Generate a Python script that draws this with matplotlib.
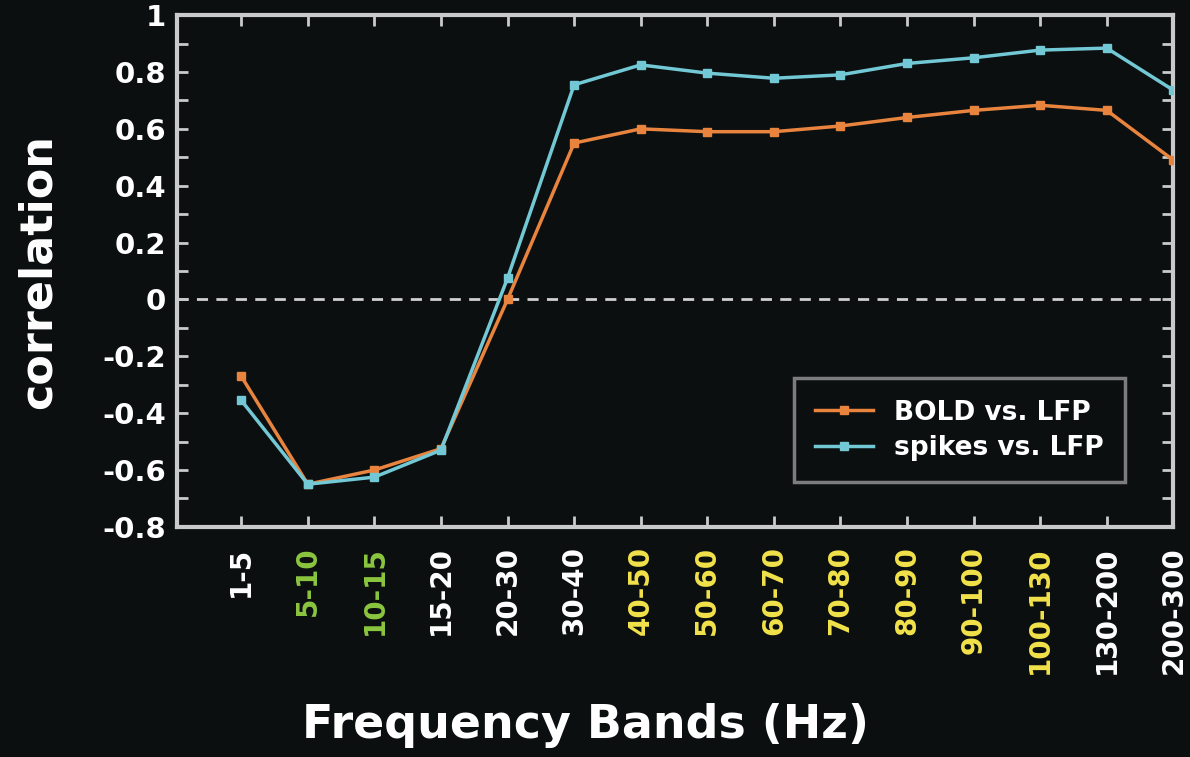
import numpy as np
import matplotlib.pyplot as plt
from matplotlib.ticker import MultipleLocator

# frequency bands and correlations with LFP power
bands = ["1-5", "5-10", "10-15", "15-20", "20-30", "30-40", "40-50", "50-60",
         "60-70", "70-80", "80-90", "90-100", "100-130", "130-200", "200-300"]
bold_lfp = [-0.27, -0.65, -0.60, -0.525, 0.0, 0.55, 0.60, 0.59,
            0.59, 0.61, 0.64, 0.665, 0.683, 0.665, 0.49]
spikes_lfp = [-0.355, -0.65, -0.625, -0.53, 0.075, 0.755, 0.825, 0.796,
              0.778, 0.79, 0.83, 0.85, 0.877, 0.884, 0.736]
band_colors = ["white", "#8cc63f", "#8cc63f", "white", "white", "white",
               "#f2e24a", "#f2e24a", "#f2e24a", "#f2e24a", "#f2e24a",
               "#f2e24a", "#f2e24a", "white", "white"]

bg = "#0b0f10"
frame = "#c8cacb"
orange = "#e8843e"
cyan = "#72c8d4"

fig = plt.figure(figsize=(11.9, 7.57), dpi=100, facecolor=bg)
ax = fig.add_axes([0.149, 0.304, 0.837, 0.676], facecolor=bg)

x = np.arange(1, len(bands) + 1)
ax.axhline(0, color="#d0d0d0", linestyle=(0, (4, 3)), linewidth=2, zorder=1)
ax.plot(x, bold_lfp, color=orange, lw=2.5, marker="s", ms=6, label="BOLD vs. LFP", zorder=3)
ax.plot(x, spikes_lfp, color=cyan, lw=2.5, marker="s", ms=6, label="spikes vs. LFP", zorder=3)

ax.set_xlim(0.04, 15)
ax.set_ylim(-0.8, 1.0)
ax.set_xticks(x)
ax.set_xticklabels(bands, rotation=90, fontsize=20, fontweight="bold")
for lab, c in zip(ax.get_xticklabels(), band_colors):
    lab.set_color(c)

yt = np.round(np.arange(-0.8, 1.01, 0.2), 1)
ax.set_yticks(yt)
ax.yaxis.set_minor_locator(MultipleLocator(0.1))
ax.set_yticklabels(["0" if v == 0 else ("1" if v == 1 else f"{v:g}") for v in yt],
                   fontsize=21, fontweight="bold", color="white")

ax.tick_params(axis="both", which="both", direction="in", top=True, right=True,
               length=8, width=2, color=frame)
ax.tick_params(axis="x", pad=14)
ax.tick_params(axis="y", pad=8)
for s in ax.spines.values():
    s.set_color(frame)
    s.set_linewidth(3)

ax.set_ylabel("correlation", fontsize=32, fontweight="bold", color="white")
ax.yaxis.set_label_coords(-0.118, 0.5)
ax.set_xlabel("Frequency Bands (Hz)", fontsize=33, fontweight="bold", color="white")
ax.xaxis.set_label_coords(0.41, -0.345)

leg = ax.legend(loc="lower right", bbox_to_anchor=(0.965, 0.062), fontsize=19,
                frameon=True, fancybox=False, facecolor=bg, edgecolor="#9a9a9a",
                handlelength=2.2, borderpad=0.8, labelspacing=0.35)
leg.get_frame().set_linewidth(2.5)
for t in leg.get_texts():
    t.set_color("white")
    t.set_fontweight("bold")

fig.savefig("out.png", facecolor=bg)
